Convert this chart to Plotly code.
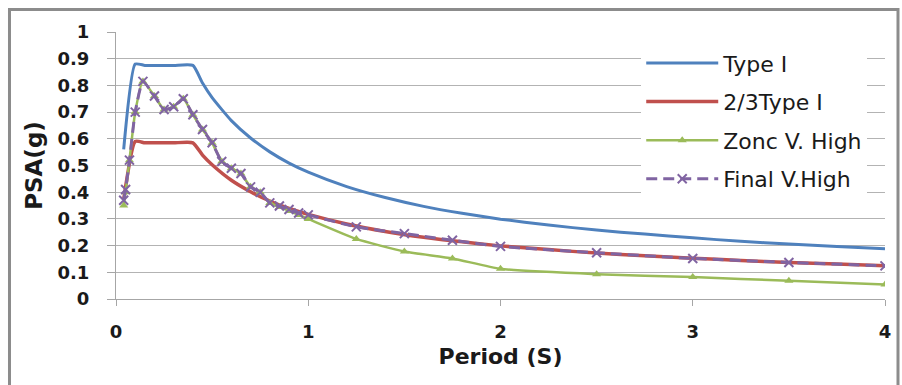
import plotly.graph_objects as go

# Type I (blue) and 2/3 Type I (red)
t_type = [0.04, 0.1, 0.15, 0.2, 0.3, 0.4, 0.45, 0.5, 0.6, 0.7, 0.8, 0.9, 1.0, 1.2, 1.4, 1.6,
          1.8, 2.0, 2.25, 2.5, 2.75, 3.0, 3.25, 3.5, 3.75, 4.0]
type1 = [0.56, 0.88, 0.875, 0.875, 0.875, 0.875, 0.809, 0.754, 0.668, 0.603, 0.551, 0.509,
         0.475, 0.421, 0.380, 0.347, 0.321, 0.299, 0.277, 0.258, 0.243, 0.229, 0.216, 0.206,
         0.197, 0.188]
type23 = [0.373, 0.59, 0.585, 0.585, 0.585, 0.585, 0.539, 0.503, 0.445, 0.402, 0.367, 0.339,
          0.317, 0.281, 0.253, 0.231, 0.214, 0.199, 0.185, 0.172, 0.162, 0.153, 0.144, 0.137,
          0.131, 0.125]

# Zone V. High (green) and Final V.High (purple)
t_zone = [0.04, 0.05, 0.07, 0.1, 0.14, 0.2, 0.25, 0.3, 0.35, 0.4, 0.45, 0.5, 0.55, 0.6, 0.65,
          0.7, 0.75, 0.8, 0.85, 0.9, 0.95, 1.0, 1.25, 1.5, 1.75, 2.0, 2.5, 3.0, 3.5, 4.0]
zone = [0.35, 0.40, 0.52, 0.70, 0.815, 0.76, 0.71, 0.72, 0.75, 0.69, 0.635, 0.585, 0.515, 0.49,
        0.47, 0.42, 0.40, 0.36, 0.345, 0.33, 0.315, 0.30, 0.225, 0.178, 0.152, 0.113, 0.093,
        0.082, 0.068, 0.054]
final = [0.37, 0.41, 0.52, 0.70, 0.815, 0.76, 0.71, 0.72, 0.75, 0.69, 0.635, 0.585, 0.515, 0.49,
         0.47, 0.42, 0.40, 0.36, 0.348, 0.335, 0.322, 0.315, 0.27, 0.245, 0.22, 0.197, 0.173,
         0.152, 0.137, 0.124]

names = ["Type I", "2/3Type I", "Zonc V. High", "Final V.High"]
x_ticks = [0, 1, 2, 3, 4]
y_ticks = [0, 0.1, 0.2, 0.3, 0.4, 0.5, 0.6, 0.7, 0.8, 0.9, 1]
y_tick_text = ["0", "0.1", "0.2", "0.3", "0.4", "0.5", "0.6", "0.7", "0.8", "0.9", "1"]

fig = go.Figure()
fig.add_trace(go.Scatter(x=t_type, y=type1, name=names[0], mode="lines", legendgroup="a",
                         line=dict(color="#4F81BD", width=3, shape="spline", smoothing=0.5)))
fig.add_trace(go.Scatter(x=t_type, y=type23, name=names[1], mode="lines", legendgroup="b",
                         line=dict(color="#C0504D", width=3.5, shape="spline", smoothing=0.5)))
fig.add_trace(go.Scatter(x=t_zone, y=zone, name=names[2], mode="lines+markers", legendgroup="c",
                         line=dict(color="#9BBB59", width=2.5, shape="spline", smoothing=0.5),
                         marker=dict(symbol="triangle-up", size=8, color="#9BBB59")))
fig.add_trace(go.Scatter(x=t_zone, y=final, name=names[3], mode="lines+markers", legendgroup="d",
                         line=dict(color="#8064A2", width=3, dash="11px,6px", shape="spline", smoothing=0.5),
                         marker=dict(symbol="x-thin-open", size=9, color="#8064A2",
                                     line=dict(color="#8064A2", width=2))))

tick_font = dict(family="DejaVu Sans", size=18, color="#1a1a1a", weight="bold")
fig.update_layout(
    width=902, height=385,
    margin=dict(l=116, r=17, t=32, b=86),
    paper_bgcolor="white", plot_bgcolor="white",
    showlegend=True,
    legend=dict(x=0.683, y=0.962, xanchor="left", yanchor="top",
                bgcolor="white", borderwidth=0, itemwidth=72, tracegroupgap=7,
                font=dict(family="DejaVu Sans", size=22, color="#1a1a1a")),
    xaxis=dict(range=[0, 4], tickvals=x_ticks, ticktext=[str(v) for v in x_ticks],
               showgrid=False, zeroline=False, showline=True, linecolor="#a6a6a6", linewidth=1,
               ticks="outside", ticklen=6, tickcolor="#a6a6a6", tickfont=tick_font,
               ticklabelstandoff=10, automargin=False,
               title=dict(text="<b>Period (S)</b>", standoff=8,
                          font=dict(family="DejaVu Sans", size=22, color="#1a1a1a"))),
    yaxis=dict(range=[0, 1], tickvals=y_ticks, ticktext=y_tick_text,
               showgrid=True, gridcolor="#b3b3b3", gridwidth=1, zeroline=False,
               showline=True, linecolor="#a6a6a6", linewidth=1,
               ticks="outside", ticklen=8, tickcolor="#a6a6a6", tickfont=tick_font,
               ticklabelstandoff=14, automargin=False,
               title=dict(text="<b>PSA(g)</b>", standoff=8,
                          font=dict(family="DejaVu Sans", size=23, color="#1a1a1a"))),
    shapes=[dict(type="rect", xref="paper", yref="paper",
                 x0=-0.1385, x1=1.0169, y0=-0.36, y1=1.0843,
                 line=dict(color="#8c8c8c", width=3), fillcolor="rgba(0,0,0,0)")],
)

fig.write_html("out.html", config={"displayModeBar": False},
               post_script="document.body.style.margin='0';")
